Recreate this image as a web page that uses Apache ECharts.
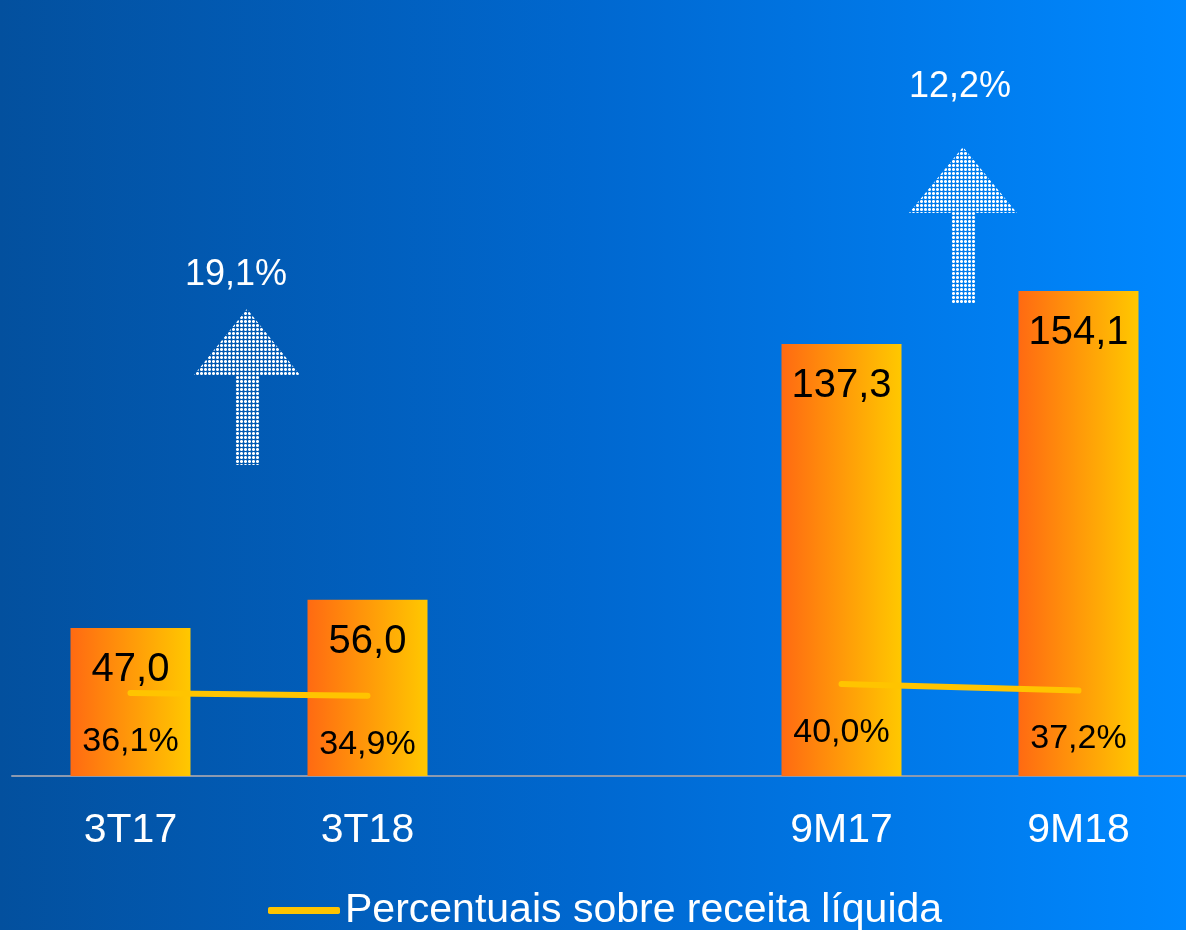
<!DOCTYPE html>
<html>
<head>
<meta charset="utf-8">
<script src="https://cdn.jsdelivr.net/npm/echarts@6/dist/echarts.min.js"></script>
<style>
  html, body { margin: 0; padding: 0; }
  #chart {
    width: 1186px; height: 930px;
    background: linear-gradient(to right, #03509e 0%, #0068d0 50%, #0088ff 100%);
  }
</style>
</head>
<body>
<div id="chart"></div>
<script>
  // data
  const categories = ['3T17', '3T18', '', '9M17', '9M18']
  const valores = [47.0, 56.0, '-', 137.3, 154.1]
  const percentuais = [36.1, 34.9, '-', 40.0, 37.2]
  const variacoes = ['19,1%', '12,2%']

  const fmt = v => v.toFixed(1).replace('.', ',')

  // dotted fill for the arrows (crisp 3px dots on a 4px pitch)
  const dots = document.createElement('canvas')
  dots.width = 4
  dots.height = 4
  const dctx = dots.getContext('2d')
  dctx.fillStyle = '#ffffff'
  dctx.fillRect(1, 0, 1, 3)
  dctx.fillRect(0, 1, 3, 1)
  dctx.fillStyle = 'rgba(255,255,255,0.6)'
  dctx.fillRect(0, 0, 1, 1)
  dctx.fillRect(2, 0, 1, 1)
  dctx.fillRect(0, 2, 1, 1)
  dctx.fillRect(2, 2, 1, 1)

  const chart = echarts.init(document.getElementById('chart'))

  chart.setOption({
    backgroundColor: 'transparent',
    animation: false,
    textStyle: { fontFamily: 'Liberation Sans, Arial, sans-serif' },
    grid: { left: 12, width: 1185, top: 146.6, bottom: 154, outerBoundsMode: 'none', containLabel: false },
    legend: {
      left: 268,
      top: 890,
      padding: 0,
      icon: 'roundRect',
      itemWidth: 72,
      itemHeight: 7,
      data: ['Percentuais sobre receita líquida'],
      textStyle: { color: '#ffffff', fontSize: 41 }
    },
    xAxis: {
      type: 'category',
      data: categories,
      axisTick: { show: false },
      axisLine: { lineStyle: { color: '#8c9ab0', width: 2 } },
      axisLabel: { color: '#ffffff', fontSize: 41, margin: 34 }
    },
    yAxis: [
      { type: 'value', min: 0, max: 200, show: false, splitLine: { show: false } },
      { type: 'value', min: 0, max: 274, show: false, splitLine: { show: false } }
    ],
    series: [
      {
        name: 'Valor',
        type: 'bar',
        data: valores,
        barWidth: 120,
        itemStyle: {
          color: new echarts.graphic.LinearGradient(0, 0, 1, 0, [
            { offset: 0, color: '#ff6a12' },
            { offset: 1, color: '#ffc800' }
          ])
        },
        label: {
          show: true,
          position: 'insideTop',
          distance: 22,
          fontSize: 40,
          color: '#000000',
          formatter: p => fmt(p.value)
        },
        z: 2
      },
      {
        name: 'Percentuais sobre receita líquida',
        type: 'line',
        yAxisIndex: 1,
        data: percentuais,
        connectNulls: false,
        symbol: 'circle',
        symbolSize: 1,
        itemStyle: { color: '#ffc400' },
        lineStyle: { color: '#ffc400', width: 6, cap: 'round' },
        label: {
          show: true,
          position: 'bottom',
          distance: 31,
          fontSize: 34,
          color: '#000000',
          formatter: p => fmt(p.value) + '%'
        },
        z: 3
      }
    ]
  })

  // arrows + growth labels between the bars of each group
  function arrow(cx, ty, half) {
    return {
      type: 'polygon',
      shape: {
        points: [
          [cx, ty], [cx + half, ty + 66], [cx + 12, ty + 66], [cx + 12, ty + 156],
          [cx - 12, ty + 156], [cx - 12, ty + 66], [cx - half, ty + 66]
        ]
      },
      style: { fill: { type: 'pattern', image: dots, repeat: 'repeat' } }
    }
  }
  const px = c => chart.convertToPixel({ xAxisIndex: 0 }, c)
  const x1 = (px(categories[0]) + px(categories[1])) / 2
  const x2 = (px(categories[3]) + px(categories[4])) / 2

  chart.setOption({
    graphic: [
      arrow(x1 - 2, 309, 53),
      arrow(x2 + 3, 147, 54),
      {
        type: 'text', x: x1 - 13, y: 275,
        style: { text: variacoes[0], fill: '#ffffff', font: '36px Liberation Sans', align: 'center', verticalAlign: 'middle' }
      },
      {
        type: 'text', x: x2, y: 87,
        style: { text: variacoes[1], fill: '#ffffff', font: '36px Liberation Sans', align: 'center', verticalAlign: 'middle' }
      }
    ]
  })
</script>
</body>
</html>
